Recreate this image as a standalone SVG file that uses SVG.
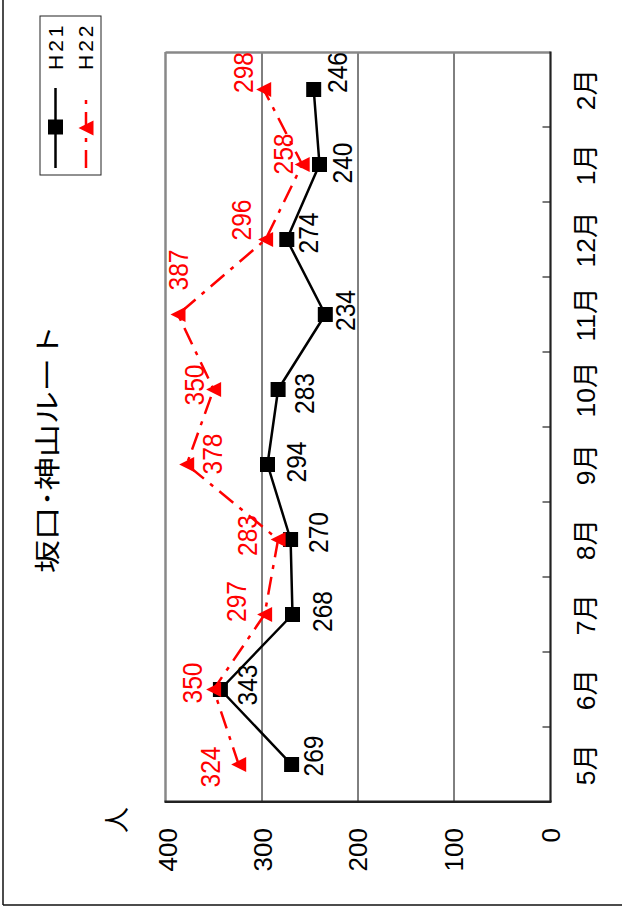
<svg xmlns="http://www.w3.org/2000/svg" xmlns:xlink="http://www.w3.org/1999/xlink" width="622" height="908" viewBox="0 0 622 908">
<style>
text{font-family:"Liberation Sans","Noto Sans CJK JP",sans-serif}
.lbl{font-size:27px;text-anchor:middle}
.r{fill:#ff0000}
.k{fill:#000}
.ax{font-size:26px;text-anchor:end;fill:#000}
.mo{font-size:26.5px;text-anchor:middle;fill:#000}
.grid{stroke:#000;stroke-width:1;fill:none}
.s1{fill:none;stroke:#000;stroke-width:2.5;stroke-linejoin:round}
.s2{fill:none;stroke:#ff0000;stroke-width:2.5;stroke-dasharray:18 8 4 8}
.leg{font-size:21px;letter-spacing:3px;fill:#000}
</style>
<defs>
<rect id="sq" x="-7.5" y="-7.5" width="15" height="15" fill="#000"/>
<path id="tri" d="M-7.5,0 L7.5,-7.5 L7.5,7.5 Z" fill="#ff0000"/>
</defs>

<g id="frame">
<line x1="3" y1="0" x2="3" y2="905" stroke="#111" stroke-width="1.5"/>
<line x1="3" y1="905" x2="622" y2="905" stroke="#111" stroke-width="1.5"/>
</g>

<g id="title">
<text transform="translate(57,449) rotate(-90)" font-size="26.5" text-anchor="middle" textLength="248" lengthAdjust="spacingAndGlyphs" style="font-family:'Noto Sans CJK JP',sans-serif">坂口･神山ルート</text>
</g>

<g id="legend">
<rect x="40" y="16" width="61" height="159" fill="#fff" stroke="#222" stroke-width="1"/>
<line x1="55.5" y1="168" x2="55.5" y2="88" stroke="#000" stroke-width="2.5"/>
<use href="#sq" x="55.5" y="127"/>
<line x1="86" y1="168" x2="86" y2="92" class="s2"/>
<use href="#tri" x="86" y="128"/>
<text class="leg" transform="translate(63,70) rotate(-90)">H21</text>
<text class="leg" transform="translate(93,70) rotate(-90)">H22</text>
</g>

<g id="plot">
<line class="grid" x1="262" y1="52" x2="262" y2="802"/>
<line class="grid" x1="358" y1="52" x2="358" y2="802"/>
<line class="grid" x1="454" y1="52" x2="454" y2="802"/>
<line x1="165.5" y1="52.5" x2="550.5" y2="52.5" stroke="#888" stroke-width="2.5"/>
<line x1="165.5" y1="52" x2="165.5" y2="802" stroke="#888" stroke-width="2.5"/>
<line x1="550.5" y1="51.5" x2="550.5" y2="802" stroke="#222" stroke-width="2.2"/>
<line x1="164.5" y1="801.8" x2="551.5" y2="801.8" stroke="#222" stroke-width="2.5"/>
<g stroke="#222" stroke-width="1.2">
<line x1="542.5" y1="127" x2="550" y2="127"/>
<line x1="542.5" y1="202" x2="550" y2="202"/>
<line x1="542.5" y1="277" x2="550" y2="277"/>
<line x1="542.5" y1="352" x2="550" y2="352"/>
<line x1="542.5" y1="427" x2="550" y2="427"/>
<line x1="542.5" y1="502" x2="550" y2="502"/>
<line x1="542.5" y1="577" x2="550" y2="577"/>
<line x1="542.5" y1="652" x2="550" y2="652"/>
<line x1="542.5" y1="727" x2="550" y2="727"/>
</g>
</g>

<g id="value-axis">
<text class="ax" transform="translate(177,828) rotate(-90)">400</text>
<text class="ax" transform="translate(272,828) rotate(-90)">300</text>
<text class="ax" transform="translate(367,828) rotate(-90)">200</text>
<text class="ax" transform="translate(463,828) rotate(-90)">100</text>
<text class="ax" transform="translate(560,828) rotate(-90)">0</text>
<text transform="translate(126,820) rotate(-90)" font-size="26" text-anchor="middle" style="font-family:'Noto Sans CJK JP',sans-serif">人</text>
</g>

<g id="category-axis">
<text class="mo" transform="translate(595,764.5) rotate(-90)">5月</text>
<text class="mo" transform="translate(595,689.5) rotate(-90)">6月</text>
<text class="mo" transform="translate(595,614.5) rotate(-90)">7月</text>
<text class="mo" transform="translate(595,539.5) rotate(-90)">8月</text>
<text class="mo" transform="translate(595,464.5) rotate(-90)">9月</text>
<text class="mo" transform="translate(595,389.5) rotate(-90)">10月</text>
<text class="mo" transform="translate(595,314.5) rotate(-90)">11月</text>
<text class="mo" transform="translate(595,239.5) rotate(-90)">12月</text>
<text class="mo" transform="translate(595,164.5) rotate(-90)">1月</text>
<text class="mo" transform="translate(595,89.5) rotate(-90)">2月</text>
</g>

<g id="connectors">
<polyline id="line-h21" class="s1" points="291.6,764.5 220.4,689.5 292.5,614.5 290.6,539.5 267.5,464.5 278.1,389.5 325.3,314.5 286.8,239.5 319.5,164.5 313.7,89.5"/>
</g>

<g id="series-h21">
<use href="#sq" x="291.6" y="764.5"/>
<use href="#sq" x="220.4" y="689.5"/>
<use href="#sq" x="292.5" y="614.5"/>
<use href="#sq" x="290.6" y="539.5"/>
<use href="#sq" x="267.5" y="464.5"/>
<use href="#sq" x="278.1" y="389.5"/>
<use href="#sq" x="325.3" y="314.5"/>
<use href="#sq" x="286.8" y="239.5"/>
<use href="#sq" x="319.5" y="164.5"/>
<use href="#sq" x="313.7" y="89.5"/>
</g>

<g id="connectors-h22">
<polyline id="line-h22" class="s2" points="238.7,764.5 213.6,689.5 264.6,614.5 278.1,539.5 186.7,464.5 213.6,389.5 178.0,314.5 265.6,239.5 302.2,164.5 263.7,89.5"/>
</g>

<g id="series-h22">
<use href="#tri" x="238.7" y="764.5"/>
<use href="#tri" x="213.6" y="689.5"/>
<use href="#tri" x="264.6" y="614.5"/>
<use href="#tri" x="278.1" y="539.5"/>
<use href="#tri" x="186.7" y="464.5"/>
<use href="#tri" x="213.6" y="389.5"/>
<use href="#tri" x="178.0" y="314.5"/>
<use href="#tri" x="265.6" y="239.5"/>
<use href="#tri" x="302.2" y="164.5"/>
<use href="#tri" x="263.7" y="89.5"/>
</g>

<g id="labels-h21" class="k">
<text class="lbl k" transform="translate(323,756) rotate(-90) scale(0.91,1)">269</text>
<text class="lbl k" transform="translate(257,685) rotate(-90) scale(0.91,1)">343</text>
<text class="lbl k" transform="translate(332,611.5) rotate(-90) scale(0.91,1)">268</text>
<text class="lbl k" transform="translate(328,532.5) rotate(-90) scale(0.91,1)">270</text>
<text class="lbl k" transform="translate(306,462) rotate(-90) scale(0.91,1)">294</text>
<text class="lbl k" transform="translate(314,393.5) rotate(-90) scale(0.91,1)">283</text>
<text class="lbl k" transform="translate(355,310.5) rotate(-90) scale(0.91,1)">234</text>
<text class="lbl k" transform="translate(318,233) rotate(-90) scale(0.91,1)">274</text>
<text class="lbl k" transform="translate(352,163) rotate(-90) scale(0.91,1)">240</text>
<text class="lbl k" transform="translate(347,72.5) rotate(-90) scale(0.91,1)">246</text>
</g>

<g id="labels-h22" class="r">
<text class="lbl r" transform="translate(220,767) rotate(-90) scale(0.91,1)">324</text>
<text class="lbl r" transform="translate(202,683) rotate(-90) scale(0.91,1)">350</text>
<text class="lbl r" transform="translate(246,601.5) rotate(-90) scale(0.91,1)">297</text>
<text class="lbl r" transform="translate(257,535.5) rotate(-90) scale(0.91,1)">283</text>
<text class="lbl r" transform="translate(222,454) rotate(-90) scale(0.91,1)">378</text>
<text class="lbl r" transform="translate(204,385) rotate(-90) scale(0.91,1)">350</text>
<text class="lbl r" transform="translate(188,270) rotate(-90) scale(0.91,1)">387</text>
<text class="lbl r" transform="translate(251,220) rotate(-90) scale(0.91,1)">296</text>
<text class="lbl r" transform="translate(293,154) rotate(-90) scale(0.91,1)">258</text>
<text class="lbl r" transform="translate(253,72.5) rotate(-90) scale(0.91,1)">298</text>
</g>
</svg>
